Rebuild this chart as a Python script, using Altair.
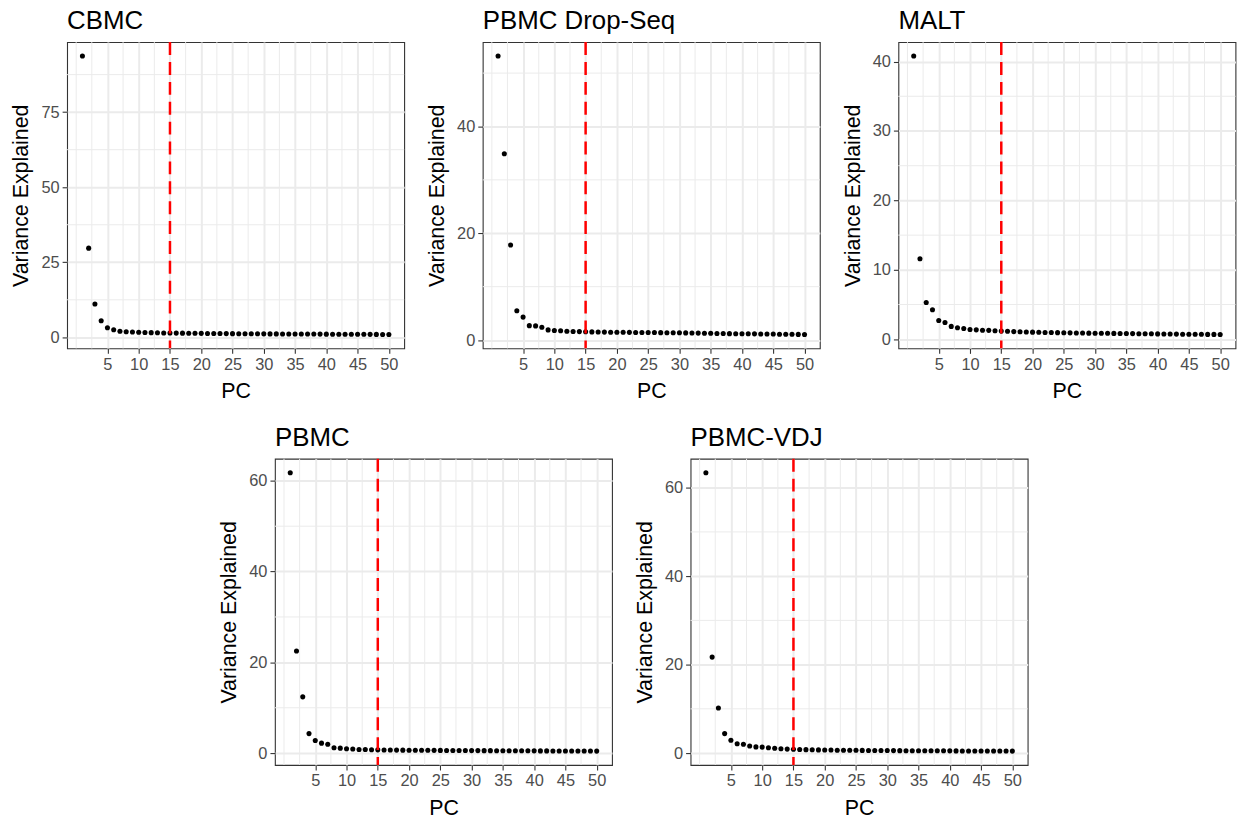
import altair as alt
import pandas as pd

# ---- data ----
pcs = list(range(1, 51))

cbmc = [93.7, 29.7, 11.1, 5.5, 3.2, 2.5, 2.0, 1.85, 1.75, 1.7,
        1.6, 1.55, 1.5, 1.46, 1.43, 1.4, 1.38, 1.35, 1.33, 1.31,
        1.29, 1.27, 1.25, 1.23, 1.22, 1.2, 1.19, 1.18, 1.16, 1.15,
        1.14, 1.13, 1.12, 1.11, 1.1, 1.09, 1.08, 1.07, 1.06, 1.05,
        1.04, 1.03, 1.02, 1.01, 1.0, 0.99, 0.98, 0.97, 0.96, 0.95]

pbmc_dropseq = [53.2, 34.9, 17.8, 5.5, 4.3, 2.7, 2.65, 2.4, 1.9, 1.8,
                1.75, 1.65, 1.6, 1.58, 1.55, 1.53, 1.51, 1.49, 1.47, 1.46,
                1.45, 1.44, 1.43, 1.42, 1.41, 1.4, 1.39, 1.38, 1.37, 1.36,
                1.34, 1.32, 1.3, 1.28, 1.26, 1.24, 1.22, 1.2, 1.19, 1.18,
                1.17, 1.16, 1.15, 1.14, 1.12, 1.1, 1.09, 1.08, 1.06, 1.05]

malt = [40.8, 11.6, 5.3, 4.25, 2.7, 2.4, 1.85, 1.65, 1.55, 1.4,
        1.35, 1.3, 1.28, 1.22, 1.17, 1.14, 1.1, 1.07, 1.04, 1.02,
        1.0, 0.98, 0.96, 0.95, 0.93, 0.92, 0.9, 0.89, 0.88, 0.87,
        0.86, 0.85, 0.84, 0.83, 0.82, 0.81, 0.8, 0.79, 0.78, 0.77,
        0.76, 0.75, 0.74, 0.73, 0.72, 0.72, 0.71, 0.7, 0.7, 0.69]

pbmc = [61.8, 22.5, 12.4, 4.3, 2.8, 2.2, 1.95, 1.2, 1.1, 0.95,
        0.9, 0.82, 0.8, 0.76, 0.72, 0.7, 0.68, 0.67, 0.66, 0.65,
        0.64, 0.63, 0.62, 0.61, 0.6, 0.59, 0.58, 0.575, 0.57, 0.56,
        0.555, 0.55, 0.545, 0.54, 0.53, 0.525, 0.52, 0.515, 0.51, 0.5,
        0.495, 0.49, 0.485, 0.48, 0.475, 0.47, 0.465, 0.46, 0.455, 0.45]

pbmc_vdj = [63.4, 21.7, 10.2, 4.4, 2.9, 2.1, 2.0, 1.6, 1.4, 1.35,
            1.2, 1.1, 0.97, 0.9, 0.88, 0.82, 0.78, 0.75, 0.72, 0.7,
            0.68, 0.66, 0.65, 0.63, 0.62, 0.61, 0.6, 0.59, 0.58, 0.57,
            0.56, 0.55, 0.545, 0.54, 0.53, 0.525, 0.52, 0.515, 0.51, 0.5,
            0.495, 0.49, 0.485, 0.48, 0.475, 0.47, 0.465, 0.46, 0.455, 0.45]

titles = ["CBMC", "PBMC Drop-Seq", "MALT", "PBMC", "PBMC-VDJ"]

x_ticks = [5, 10, 15, 20, 25, 30, 35, 40, 45, 50]
x_minor = [0, 2.5, 7.5, 12.5, 17.5, 22.5, 27.5, 32.5, 37.5, 42.5, 47.5]

y_ticks_cbmc = [0, 25, 50, 75]
y_minor_cbmc = [12.5, 37.5, 62.5, 87.5]
y_ticks_20 = [0, 20, 40, 60]
y_minor_20 = [10, 30, 50]
y_ticks_malt = [0, 10, 20, 30, 40]
y_minor_malt = [5, 15, 25, 35]

cutoff = [15]

FONT = "Liberation Sans"
W, H = 339, 308


def panel(title, vals, yticks, yminor):
    df = pd.DataFrame({"PC": pcs, "Variance": vals})
    lo, hi = min(vals), max(vals)
    r = hi - lo
    xr = max(pcs) - min(pcs)
    xs = alt.Scale(domain=[min(pcs) - 0.05 * xr, max(pcs) + 0.05 * xr], nice=False, zero=False)
    ys = alt.Scale(domain=[lo - 0.05 * r, hi + 0.05 * r], nice=False, zero=False)
    xaxis = alt.Axis(values=x_ticks, title="PC", grid=True, labelOverlap=False)
    yaxis = alt.Axis(values=[v for v in yticks if v <= hi + 0.05 * r],
                     title="Variance Explained", grid=True, labelOverlap=False)

    minor_x = alt.Chart(pd.DataFrame({"PC": x_minor})).mark_rule(
        color="#EBEBEB", strokeWidth=1).encode(x=alt.X("PC:Q", scale=xs, axis=xaxis))
    minor_y = alt.Chart(pd.DataFrame({"Variance": yminor})).mark_rule(
        color="#EBEBEB", strokeWidth=1).encode(y=alt.Y("Variance:Q", scale=ys, axis=yaxis))
    pts = alt.Chart(df).mark_circle(color="black", opacity=1, size=26).encode(
        x=alt.X("PC:Q", scale=xs, axis=xaxis),
        y=alt.Y("Variance:Q", scale=ys, axis=yaxis))
    vline = alt.Chart(pd.DataFrame({"PC": cutoff})).mark_rule(
        color="#FF0000", strokeWidth=2.5, strokeDash=[13, 7]).encode(
        x=alt.X("PC:Q", scale=xs, axis=xaxis))
    return alt.layer(minor_x, minor_y, pts, vline).properties(
        width=W, height=H,
        title=alt.Title(title, anchor="start", frame="group", fontSize=26,
                        fontWeight="normal", color="black", font=FONT, offset=7))


p1 = panel(titles[0], cbmc, y_ticks_cbmc, y_minor_cbmc)
p2 = panel(titles[1], pbmc_dropseq, y_ticks_20, y_minor_20)
p3 = panel(titles[2], malt, y_ticks_malt, y_minor_malt)
p4 = panel(titles[3], pbmc, y_ticks_20, y_minor_20)
p5 = panel(titles[4], pbmc_vdj, y_ticks_20, y_minor_20)

top = alt.hconcat(p1, p2, p3, spacing=20)
bottom = alt.hconcat(p4, p5, spacing=20)

chart = alt.vconcat(top, bottom, spacing=21, center=True).configure(
    font=FONT,
    padding={"left": 10, "top": 5, "right": 1, "bottom": 5},
    background="white",
).configure_view(
    stroke="#333333", strokeWidth=1.1
).configure_axis(
    domain=False, tickColor="#333333", tickSize=5, tickWidth=1.1,
    labelColor="#4D4D4D", labelFontSize=16.5, labelFont=FONT, labelPadding=3,
    titleFont=FONT, titleFontSize=21.5, titleFontWeight="normal", titleColor="black",
    titlePadding=8, gridColor="#EBEBEB", gridWidth=2,
)

chart.save("out.html", embed_options={"renderer": "svg", "actions": False})
